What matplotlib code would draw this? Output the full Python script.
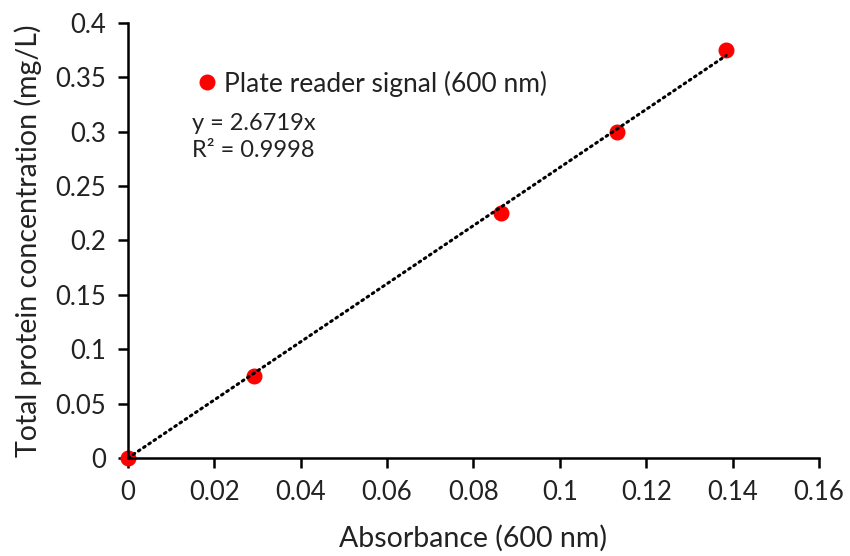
import matplotlib
matplotlib.use("Agg")
import matplotlib.pyplot as plt
import numpy as np

plt.rcParams['font.family'] = ['Lato', 'DejaVu Sans']

absorbance = [0.0, 0.0292, 0.0864, 0.1132, 0.1385]
concentration = [0.0, 0.075, 0.225, 0.3, 0.375]
slope = 2.6719
x_ticks = [0, 0.02, 0.04, 0.06, 0.08, 0.1, 0.12, 0.14, 0.16]
y_ticks = [0, 0.05, 0.1, 0.15, 0.2, 0.25, 0.3, 0.35, 0.4]
x_tick_labels = ['0', '0.02', '0.04', '0.06', '0.08', '0.1', '0.12', '0.14', '0.16']
y_tick_labels = ['0', '0.05', '0.1', '0.15', '0.2', '0.25', '0.3', '0.35', '0.4']

fig = plt.figure(figsize=(8.5, 5.56), dpi=100)
ax = fig.add_axes([0.1506, 0.1763, 0.8129, 0.7823])

xfit = np.array([0.0, max(absorbance)])
ax.plot(xfit, slope * xfit, color='black', linestyle=(0, (0.6, 1.45)), linewidth=2.2,
        dash_capstyle='round', zorder=3)
ax.plot(absorbance, concentration, 'o', color='#ff0000', markersize=10.5,
        label='Plate reader signal (600 nm)', zorder=2, clip_on=False)

ax.set_xlim(0, 0.16)
ax.set_ylim(0, 0.4)
ax.set_xticks(x_ticks)
ax.set_xticklabels(x_tick_labels)
ax.set_yticks(y_ticks)
ax.set_yticklabels(y_tick_labels)
for s in ['top', 'right']:
    ax.spines[s].set_visible(False)
for s in ['left', 'bottom']:
    ax.spines[s].set_linewidth(1.8)
ax.tick_params(axis='both', direction='out', length=7, width=1.8, labelsize=18.5, pad=9,
               colors='#000000', labelcolor='#222222')

ax.set_xlabel('Absorbance (600 nm)', fontsize=20.5, color='#222222', labelpad=14)
ax.set_ylabel('Total protein concentration (mg/L)', fontsize=20.5, color='#222222', labelpad=9)

leg = ax.legend(loc='upper left', bbox_to_anchor=(0.08, 0.915), frameon=False,
                fontsize=19, handletextpad=0.15, borderaxespad=0, handlelength=1.0)
for t in leg.get_texts():
    t.set_color('#222222')

ax.text(0.092, 0.792, 'y = 2.6719x\nR² = 0.9998', transform=ax.transAxes,
        fontsize=17, color='#222222', va='top', ha='left', linespacing=1.3)

fig.savefig('out.png', dpi=100)
